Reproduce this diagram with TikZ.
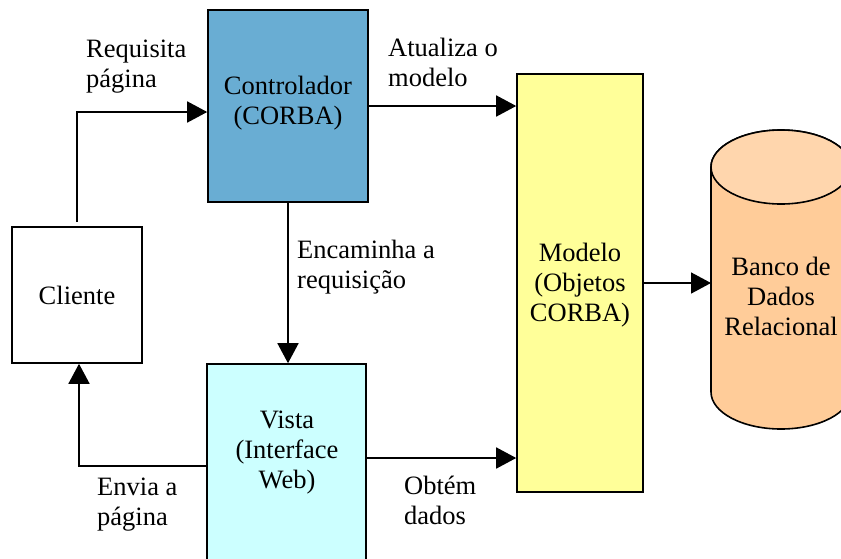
\documentclass[tikz,border=0pt]{standalone}
\usepackage{fontspec}
\setmainfont{Liberation Serif}
\usetikzlibrary{arrows.meta}
\definecolor{ctrlblue}{HTML}{69ADD3}
\definecolor{vistacyan}{HTML}{CCFFFF}
\definecolor{modyellow}{HTML}{FFFF99}
\definecolor{dbbody}{HTML}{FFCC99}
\definecolor{dbtop}{HTML}{FFD6AD}
\tikzset{
  box/.style={draw=black, line width=1.6pt, inner sep=0pt, align=center,
    font=\fontsize{26.5}{30}\selectfont},
  lbl/.style={inner sep=0pt, align=left, anchor=west,
    font=\fontsize{26.5}{30}\selectfont},
  ctxt/.style={inner sep=0pt, align=center,
    font=\fontsize{26.5}{30}\selectfont},
  arr/.style={line width=1.6pt, -{Triangle[length=20pt,width=21pt]}},
}
\begin{document}
\begin{tikzpicture}[x=1pt,y=-1pt]
\useasboundingbox (0,0) rectangle (841,558);
\clip (0,0) rectangle (841,558);
% boxes
\node[box, minimum width=130pt, minimum height=136pt] (cliente) at (77,295) {Cliente};
\node[box, fill=ctrlblue, minimum width=160pt, minimum height=192pt] (ctrl) at (288,106) {};
\node[ctxt] (ctrltxt) at (288,103) {Controlador\\(CORBA)};
\node[box, fill=vistacyan, minimum width=159pt, minimum height=211pt] (vista) at (286.5,469.5) {};
\node[ctxt] (vistatxt) at (287,453) {Vista\\(Interface\\Web)};
\node[box, fill=modyellow, minimum width=126pt, minimum height=418pt] (modelo) at (580,283) {};
\node[ctxt] (modelotxt) at (580,285) {Modelo\\(Objetos\\CORBA)};
% database cylinder
\filldraw[fill=dbbody, draw=black, line width=1.6pt]
  (711,167) -- (711,392) arc[start angle=180, end angle=360, x radius=70pt, y radius=37pt]
  -- (851,167) arc[start angle=0, end angle=180, x radius=70pt, y radius=37pt] -- cycle;
\filldraw[fill=dbtop, draw=black, line width=1.6pt] (781,167) ellipse [x radius=70pt, y radius=37pt];
\node[ctxt] (db) at (781,296) {Banco de\\Dados\\Relacional};
\coordinate (dbl) at (711,283);
% connectors
\draw[arr] ([yshift=4pt]cliente.north) |- ([yshift=-6pt]ctrl.west);
\draw[arr] (ctrl.east) -- (ctrl.east -| modelo.west);
\draw[arr] (ctrl.south) -- (ctrl.south |- vista.north);
\draw[arr] ([yshift=11.5pt]vista.east) -- ([yshift=11.5pt]vista.east -| modelo.west);
\draw[arr] ([yshift=3.5pt]vista.west) -| ([xshift=2pt]cliente.south);
\draw[arr] (modelo.east |- dbl) -- (dbl);
% labels
\node[lbl] (lreq) at (86,67) {Requisita\\página};
\node[lbl] (latu) at (388,62) {Atualiza o\\modelo};
\node[lbl] (lenc) at (297,267) {Encaminha a\\requisição};
\node[lbl] (lenv) at (97,505) {Envia a\\página};
\node[lbl] (lobt) at (404,500) {Obtém\\dados};
\end{tikzpicture}
\end{document}
